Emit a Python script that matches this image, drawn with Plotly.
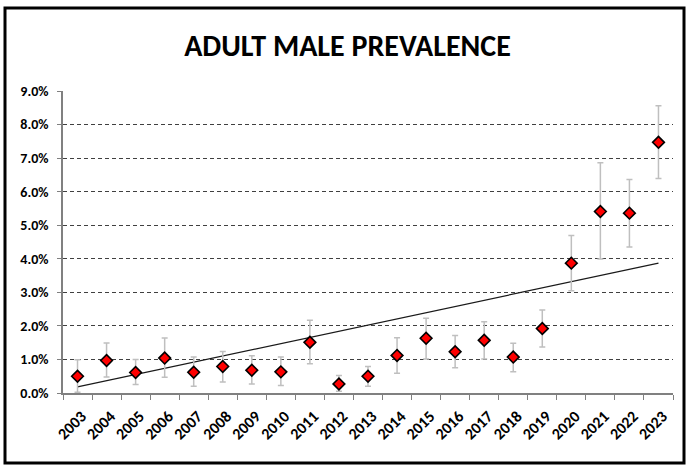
import plotly.graph_objects as go

# Survey years and adult male prevalence (%), with asymmetric confidence bounds
years = [str(y) for y in range(2003, 2024)]
prevalence = [0.50, 0.97, 0.61, 1.04, 0.62, 0.79, 0.68, 0.63, 1.51, 0.27, 0.50,
              1.12, 1.63, 1.23, 1.57, 1.07, 1.92, 3.87, 5.41, 5.36, 7.47]
upper_bound = [0.99, 1.49, 1.00, 1.64, 1.07, 1.24, 1.11, 1.07, 2.17, 0.52, 0.79,
               1.65, 2.23, 1.71, 2.12, 1.48, 2.47, 4.69, 6.86, 6.36, 8.56]
lower_bound = [0.02, 0.48, 0.25, 0.47, 0.20, 0.33, 0.27, 0.22, 0.87, 0.05, 0.20,
               0.59, 1.01, 0.75, 1.01, 0.63, 1.37, 3.05, 3.99, 4.35, 6.39]
# Linear trend line values at the first and last year
trend_years = ["2003", "2023"]
trend_values = [0.18, 3.87]
y_ticks = [0, 1, 2, 3, 4, 5, 6, 7, 8, 9]

err_plus = [u - v for u, v in zip(upper_bound, prevalence)]
err_minus = [v - l for v, l in zip(prevalence, lower_bound)]

FONT = "Carlito, 'Liberation Sans Narrow', Lato, sans-serif"

W, H = 686, 466
ML, MR, MT, MB = 63, 13, 91, 73

fig = go.Figure()

fig.add_trace(go.Scatter(
    x=trend_years, y=trend_values, mode="lines",
    line=dict(color="#1a1a1a", width=1.2),
    hoverinfo="skip", showlegend=False,
))

fig.add_trace(go.Scatter(
    x=years, y=prevalence, mode="markers",
    marker=dict(symbol="diamond", size=9, color="#ff0000",
                line=dict(color="#000000", width=1.6)),
    error_y=dict(type="data", symmetric=False, array=err_plus,
                 arrayminus=err_minus, color="#bfbfbf",
                 thickness=1.5, width=3),
    showlegend=False,
))

# outer chart frame
pw, ph = W - ML - MR, H - MT - MB
def px_x(v):
    return (v - ML) / pw
def px_y(v):
    return (H - MB - v) / ph

fig.add_shape(type="rect", xref="paper", yref="paper",
              x0=px_x(5), x1=px_x(684), y0=px_y(463), y1=px_y(8),
              line=dict(color="#000000", width=3), fillcolor="rgba(0,0,0,0)")

fig.update_layout(
    width=W, height=H,
    margin=dict(l=ML, r=MR, t=MT, b=MB),
    paper_bgcolor="white", plot_bgcolor="white",
    font=dict(family=FONT, color="#000000"),
    title=dict(text="<b>ADULT MALE PREVALENCE</b>",
               font=dict(family=FONT, size=30, color="#000000"),
               x=347.5 / W, xref="container", xanchor="center",
               y=1 - 45 / H, yref="container", yanchor="middle"),
)

fig.update_xaxes(
    type="category", categoryorder="array", categoryarray=years,
    range=[-0.5, len(years) - 0.5],
    tickson="boundaries", ticks="outside", ticklen=5, tickcolor="#808080",
    showline=True, linecolor="#808080", linewidth=1.5,
    showgrid=False, zeroline=False,
    tickangle=-45, ticklabelstandoff=6, ticklabelshift=4,
    tickfont=dict(family=FONT, size=16, color="#000000", weight="bold"),
)

fig.update_yaxes(
    range=[0, 9], tickvals=y_ticks,
    ticktext=[f"{v:.1f}%" for v in y_ticks],
    ticks="outside", ticklen=4, tickcolor="#808080",
    showline=True, linecolor="#808080", linewidth=1.5,
    showgrid=True, gridcolor="#404040", gridwidth=1, griddash="4px,3px",
    zeroline=False, ticklabelstandoff=6,
    tickfont=dict(family=FONT, size=14, color="#000000", weight="bold"),
)

fig.write_html("out.html")
